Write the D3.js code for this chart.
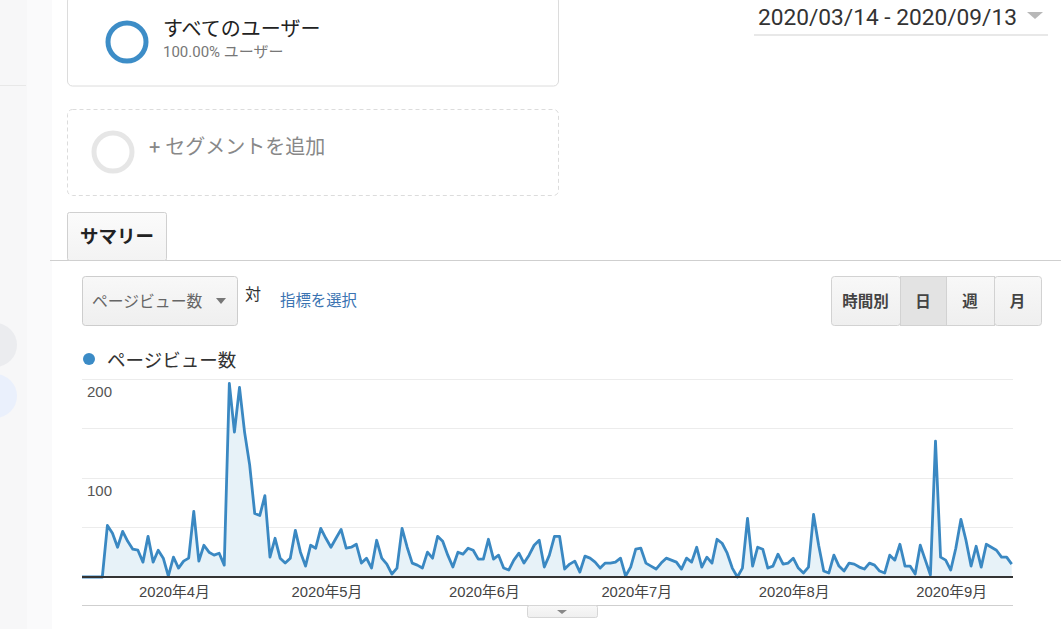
<!DOCTYPE html>
<html lang="ja">
<head>
<meta charset="utf-8">
<script src="https://cdn.jsdelivr.net/npm/d3@7"></script>
<style>
  html, body { margin: 0; padding: 0; background: #fff; }
  svg { display: block; font-family: Roboto, "Noto Sans CJK JP", sans-serif; }
</style>
</head>
<body>
<svg id="chart" width="1061" height="629"></svg>
<script>
// ---- data ----
const startDate = "2020-03-14";
const endDate = "2020-09-13";
const pageViews = [
  0,0,0,0,0,52,44,30,46,36,28,27,15,41,15,
  27,19,1,20,9,16,19,66,16,32,
  25,22,24,12,195,146,191,146,113,64,
  62,82,20,39,19,14,19,47,25,11,
  32,29,49,39,30,39,48,29,30,33,
  14,19,9,37,19,13,3,
  9,49,30,14,12,9,25,19,41,36,
  22,10,25,23,29,27,18,18,38,18,
  22,9,7,17,24,14,22,32,37,10,
  22,41,41,8,13,16,5,21,19,15,
  9,14,14,15,19,1,10,28,29,14,
  11,8,14,19,17,15,8,19,15,30,
  10,20,
  14,38,34,24,9,0,9,59,11,30,
  28,9,11,23,13,14,19,9,4,10,
  63,32,6,4,22,11,6,14,13,10,
  8,14,12,6,4,22,17,33,11,11,
  3,32,17,2,137,20,17,7,29,58,
  37,11,31,10,33,30,27,20,20,13
];
const yTicks = [100, 200];
const yGrid = [50, 100, 150, 200];
const seriesName = "ページビュー数";
const segmentName = "すべてのユーザー";
const segmentShare = "100.00% ユーザー";
const addSegment = "+ セグメントを追加";
const dateRangeLabel = "2020/03/14 - 2020/09/13";
const tabLabel = "サマリー";
const granularity = ["時間別", "日", "週", "月"];

// ---- setup ----
const svg = d3.select("#chart");
const parse = d3.timeParse("%Y-%m-%d");
const d0 = parse(startDate), d1 = parse(endDate);
const data = pageViews.map((v, i) => ({ date: d3.timeDay.offset(d0, i), value: v }));
const defs = svg.append("defs");

// left sidebar
svg.append("rect").attr("x", 0).attr("y", 0).attr("width", 27).attr("height", 629).attr("fill", "#f7f7f8");
svg.append("rect").attr("x", 27).attr("y", 0).attr("width", 25).attr("height", 629).attr("fill", "#fafafb");
svg.append("line").attr("x1", 0).attr("x2", 26).attr("y1", 85.5).attr("y2", 85.5).attr("stroke", "#e8e8e8");
svg.append("circle").attr("cx", -5).attr("cy", 345).attr("r", 22).attr("fill", "#ebecef");
svg.append("circle").attr("cx", -5).attr("cy", 396).attr("r", 22).attr("fill", "#eaf0fc");

// segment card 1
svg.append("rect").attr("x", 67.5).attr("y", -4).attr("width", 491).attr("height", 90).attr("rx", 5)
  .attr("fill", "#fff").attr("stroke", "#dcdcdc");
svg.append("circle").attr("cx", 127).attr("cy", 42).attr("r", 19).attr("fill", "none")
  .attr("stroke", "#3d8dc7").attr("stroke-width", 5);
svg.append("text").attr("x", 163).attr("y", 36).attr("font-size", 20).attr("fill", "#222").text(segmentName);
svg.append("text").attr("x", 163).attr("y", 57).attr("font-size", 15).attr("fill", "#777").text(segmentShare);

// segment card 2 (dashed)
svg.append("rect").attr("x", 67.5).attr("y", 109.5).attr("width", 491).attr("height", 86).attr("rx", 5)
  .attr("fill", "#fff").attr("stroke", "#dcdcdc").attr("stroke-dasharray", "4,3");
svg.append("circle").attr("cx", 113).attr("cy", 152).attr("r", 19).attr("fill", "none")
  .attr("stroke", "#e6e6e6").attr("stroke-width", 5);
svg.append("text").attr("x", 149).attr("y", 154).attr("font-size", 20).attr("fill", "#888").text(addSegment);

// date range
svg.append("text").attr("x", 758).attr("y", 25).attr("font-size", 22.7).attr("fill", "#333").text(dateRangeLabel);
svg.append("path").attr("d", "M1027,12 L1043,12 L1035,19 Z").attr("fill", "#b8b8b8");
svg.append("line").attr("x1", 754).attr("x2", 1048).attr("y1", 35).attr("y2", 35).attr("stroke", "#e8e8e8").attr("stroke-width", 2);

// gradients
const tabGrad = defs.append("linearGradient").attr("id", "tabg").attr("x1", 0).attr("x2", 0).attr("y1", 0).attr("y2", 1);
tabGrad.append("stop").attr("offset", "0%").attr("stop-color", "#fbfbfb");
tabGrad.append("stop").attr("offset", "100%").attr("stop-color", "#f3f3f3");
const ddGrad = defs.append("linearGradient").attr("id", "ddg").attr("x1", 0).attr("x2", 0).attr("y1", 0).attr("y2", 1);
ddGrad.append("stop").attr("offset", "0%").attr("stop-color", "#f8f8f8");
ddGrad.append("stop").attr("offset", "100%").attr("stop-color", "#efefef");

// tab
svg.append("line").attr("x1", 50).attr("x2", 1061).attr("y1", 260.5).attr("y2", 260.5).attr("stroke", "#cfcfcf");
svg.append("rect").attr("x", 67.5).attr("y", 212.5).attr("width", 99).attr("height", 48).attr("rx", 2)
  .attr("fill", "url(#tabg)").attr("stroke", "#d0d0d0");
svg.append("text").attr("x", 80).attr("y", 243).attr("font-size", 18.5).attr("font-weight", "bold").attr("fill", "#222").text(tabLabel);

// dropdown
svg.append("rect").attr("x", 82.5).attr("y", 276.5).attr("width", 155).attr("height", 49).attr("rx", 3)
  .attr("fill", "url(#ddg)").attr("stroke", "#cdcdcd");
svg.append("text").attr("x", 92).attr("y", 307).attr("font-size", 15.8).attr("fill", "#666").text(seriesName);
svg.append("path").attr("d", "M216,298 L226,298 L221,304 Z").attr("fill", "#777");
svg.append("text").attr("x", 245).attr("y", 300).attr("font-size", 16).attr("fill", "#333").text("対");
svg.append("text").attr("x", 280).attr("y", 306).attr("font-size", 15.4).attr("fill", "#3b74b2").text("指標を選択");

// granularity buttons
const btnEdges = [831, 900, 946, 994, 1041];
granularity.forEach((g, i) => {
  const x0 = btnEdges[i], w = btnEdges[i + 1] - x0;
  svg.append("rect").attr("x", x0 + 0.5).attr("y", 276.5).attr("width", w).attr("height", 49)
    .attr("fill", i === 1 ? "#e3e3e3" : "url(#ddg)").attr("stroke", "#d2d2d2").attr("rx", i === 0 || i === 3 ? 3 : 0);
  svg.append("text").attr("x", x0 + w / 2).attr("y", 307).attr("text-anchor", "middle")
    .attr("font-size", 15.5).attr("font-weight", "bold").attr("fill", "#444").text(g);
});

// legend
svg.append("circle").attr("cx", 89).attr("cy", 359).attr("r", 6).attr("fill", "#3b8bc6");
svg.append("text").attr("x", 107).attr("y", 367).attr("font-size", 18.5).attr("fill", "#333").text(seriesName);

// ---- chart ----
const x = d3.scaleTime().domain([d0, d1]).range([82, 1011.7]);
const y = d3.scaleLinear().domain([0, 200]).range([577, 378.5]);

svg.append("g").selectAll("line").data(yGrid).join("line")
  .attr("x1", 82).attr("x2", 1013)
  .attr("y1", d => Math.round(y(d)) + 0.5).attr("y2", d => Math.round(y(d)) + 0.5)
  .attr("stroke", "#ececec");

svg.append("path").datum(data)
  .attr("d", d3.area().x(d => x(d.date)).y0(y(0)).y1(d => y(d.value)))
  .attr("fill", "#e7f2f8");
svg.append("path").datum(data)
  .attr("d", d3.line().x(d => x(d.date)).y(d => y(d.value)))
  .attr("fill", "none").attr("stroke", "#3a88c2").attr("stroke-width", 2.8).attr("stroke-linejoin", "round");

svg.append("line").attr("x1", 82).attr("x2", 1013).attr("y1", 577).attr("y2", 577)
  .attr("stroke", "#333").attr("stroke-width", 2);

svg.append("g").selectAll("text").data(yTicks).join("text")
  .attr("x", 87).attr("y", d => y(d) + 18)
  .attr("font-family", "'Liberation Sans', Arial, sans-serif")
  .attr("font-size", 15).attr("fill", "#555").text(d => d);

const months = d3.timeMonth.range(d3.timeMonth.ceil(d0), d1);
svg.append("g").selectAll("text").data(months).join("text")
  .attr("x", d => x(d) + 1).attr("y", 597).attr("text-anchor", "middle")
  .attr("font-family", "'Liberation Sans', Arial, 'Noto Sans CJK JP', sans-serif")
  .attr("font-size", 14.8).attr("fill", "#444")
  .text(d => `${d.getFullYear()}年${d.getMonth() + 1}月`);

// bottom bar & handle
svg.append("line").attr("x1", 82).attr("x2", 1013).attr("y1", 605.5).attr("y2", 605.5).attr("stroke", "#cfcfcf");
svg.append("rect").attr("x", 527.5).attr("y", 605.5).attr("width", 70).attr("height", 12).attr("rx", 2)
  .attr("fill", "url(#ddg)").attr("stroke", "#d6d6d6");
svg.append("path").attr("d", "M557,610 L567,610 L562,614 Z").attr("fill", "#888");
</script>
</body>
</html>
